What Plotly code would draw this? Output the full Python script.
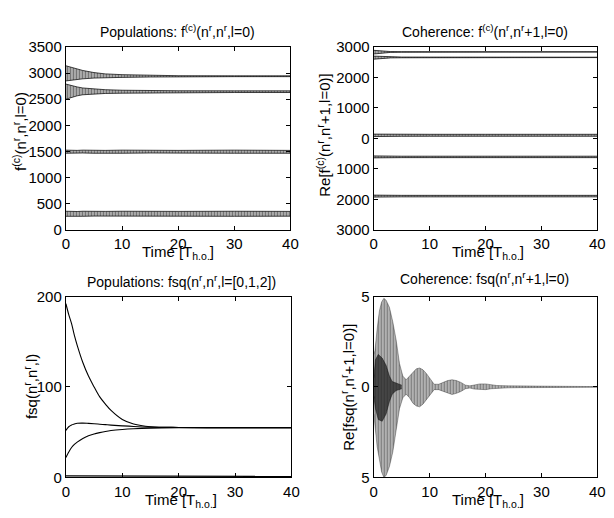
import plotly.graph_objects as go

# ---------------- data ----------------
# Top-left: populations f^(c)(n^r,n^r,l=0) -- oscillation bands (upper/lower envelopes)
t_pop = [0, 1, 2, 3, 5, 7, 10, 15, 20, 30, 40]
pop_b1_hi = [3140, 3110, 3080, 3050, 3010, 2985, 2970, 2955, 2950, 2948, 2948]
pop_b1_lo = [2850, 2865, 2880, 2890, 2905, 2912, 2918, 2925, 2930, 2932, 2932]
pop_b2_hi = [2790, 2760, 2735, 2715, 2695, 2682, 2672, 2665, 2662, 2660, 2660]
pop_b2_lo = [2500, 2535, 2565, 2585, 2600, 2610, 2615, 2620, 2625, 2628, 2628]
pop_b3_hi = [1525, 1520, 1520, 1525, 1520, 1520, 1525, 1520, 1520, 1525, 1520]
pop_b3_lo = [1465, 1470, 1465, 1470, 1465, 1470, 1465, 1470, 1465, 1465, 1465]
pop_b4_hi = [355, 350, 350, 355, 350, 352, 355, 350, 352, 355, 352]
pop_b4_lo = [258, 262, 260, 258, 262, 260, 258, 262, 260, 258, 260]

# Top-right: coherence Re f^(c)(n^r,n^r+1,l=0)
t_coh = [0, 1, 2, 3, 5, 10, 20, 30, 40]
coh_b1_hi = [2890, 2875, 2860, 2850, 2845, 2843, 2842, 2842, 2842]
coh_b1_lo = [2770, 2790, 2810, 2822, 2828, 2832, 2834, 2834, 2834]
coh_b2_hi = [2700, 2690, 2680, 2675, 2670, 2668, 2666, 2665, 2665]
coh_b2_lo = [2600, 2620, 2635, 2642, 2646, 2650, 2652, 2652, 2652]
coh_b3_hi = [140, 138, 136, 135, 135, 134, 134, 134, 134]
coh_b3_lo = [60, 64, 66, 68, 68, 70, 70, 70, 70]
coh_b4_hi = [-575, -580, -582, -584, -585, -585, -585, -585, -585]
coh_b4_lo = [-640, -636, -634, -632, -632, -632, -632, -632, -632]
coh_b5_hi = [-1862, -1866, -1868, -1870, -1870, -1870, -1870, -1870, -1870]
coh_b5_lo = [-1928, -1924, -1922, -1920, -1920, -1920, -1920, -1920, -1920]
coh_tickvals = [3000, 2000, 1000, 0, -1000, -2000, -3000]
coh_ticktext = ["3000", "2000", "1000", "0", "1000", "2000", "3000"]

# Bottom-left: fsq(n^r,n^r,l) for l = 0,1,2 (+ a near-zero trace)
t_fsq = [0, 0.5, 1, 1.5, 2, 3, 4, 5, 6, 7, 8, 10, 12, 15, 20, 25, 30, 40]
fsq_a = [192, 180, 170, 157, 146, 127, 112, 100, 89, 81, 74, 64, 59, 56, 55.2, 55, 55, 55]
fsq_b = [52, 56, 58, 59, 59.8, 60, 59.7, 59.3, 58.8, 58.3, 57.8, 57, 56.3, 55.6, 55.2, 55, 55, 55]
fsq_c = [22, 28, 33, 36.5, 39, 43, 46, 48, 49.5, 50.8, 51.8, 53, 53.8, 54.5, 54.9, 55, 55, 55]
t_fsq0 = [0, 10, 20, 40]
fsq_0 = [1.6, 1.3, 1.1, 1.0]

# Bottom-right: Re fsq(n^r,n^r+1,l=0) -- oscillation envelope
t_env = [0, 0.2, 0.6, 1.0, 1.4, 1.8, 2.2, 2.8, 3.4, 4.0, 4.6, 5.2, 5.8, 6.4, 7.0, 7.6,
         8.2, 8.8, 9.4, 10.0, 10.8, 11.6, 12.4, 13.2, 14.0, 14.8, 15.6, 16.4, 17.2,
         18.0, 19.0, 20.0, 21.0, 22.0, 24, 26, 28, 30, 35, 40]
env_hi = [1.8, 2.0, 3.2, 4.2, 4.7, 4.9, 4.8, 4.4, 3.6, 2.6, 1.3, 0.6, 0.4, 0.6, 0.85, 1.0,
          1.05, 0.95, 0.75, 0.5, 0.15, 0.15, 0.25, 0.35, 0.4, 0.35, 0.25, 0.1, 0.06,
          0.12, 0.17, 0.17, 0.12, 0.08, 0.06, 0.05, 0.04, 0.03, 0.02, 0.02]
env_lo = [-1.5, -2.2, -3.3, -4.0, -4.7, -5.0, -4.9, -4.4, -3.6, -2.4, -1.2, -0.6, -0.4, -0.6,
          -0.9, -1.05, -1.1, -0.95, -0.7, -0.45, -0.15, -0.15, -0.25, -0.35, -0.42, -0.35,
          -0.25, -0.1, -0.06, -0.12, -0.15, -0.15, -0.1, -0.07, -0.05, -0.04, -0.04, -0.03,
          -0.02, -0.02]
t_core = [0, 0.3, 0.8, 1.5, 2.2, 2.8, 3.3, 4, 5]
core_hi = [0.5, 1.5, 1.8, 1.6, 1.2, 0.6, 0.3, 0.2, 0.1]
core_lo = [-0.5, -1.2, -1.8, -1.9, -1.5, -0.8, -0.4, -0.2, -0.1]
fsqc_tickvals = [5, 0, -5]
fsqc_ticktext = ["5", "0", "5"]

# ---------------- figure ----------------
W, H = 614, 518
OFF = 8  # the page body adds an 8px margin; positions below are in page pixels
FONT = "Liberation Sans, Arial, Helvetica, sans-serif"

def px_x(a, b):
    return [(a - OFF) / W, (b - OFF) / W]

def px_y(top, bottom):
    return [1 - (bottom - OFF) / H, 1 - (top - OFF) / H]

fig = go.Figure()

def band(t, hi, lo, xa, ya, color="rgba(0,0,0,0.9)", lw=0.8, solidity=0.6,
         fg="rgba(0,0,0,0.9)", bg="rgba(120,120,120,0.35)", size=3):
    fig.add_trace(go.Scatter(x=t, y=hi, mode="lines", line=dict(color=color, width=lw),
                             xaxis=xa, yaxis=ya, showlegend=False, hoverinfo="skip"))
    fig.add_trace(go.Scatter(x=t, y=lo, mode="lines", line=dict(color=color, width=lw),
                             fill="tonexty", xaxis=xa, yaxis=ya, showlegend=False,
                             hoverinfo="skip",
                             fillpattern=dict(shape="|", size=size, solidity=solidity,
                                              fgcolor=fg, bgcolor=bg)))

# top-left
for hi, lo in [(pop_b1_hi, pop_b1_lo), (pop_b2_hi, pop_b2_lo), (pop_b3_hi, pop_b3_lo),
               (pop_b4_hi, pop_b4_lo)]:
    band(t_pop, hi, lo, "x", "y")
# top-right
for hi, lo in [(coh_b1_hi, coh_b1_lo), (coh_b2_hi, coh_b2_lo), (coh_b3_hi, coh_b3_lo),
               (coh_b4_hi, coh_b4_lo), (coh_b5_hi, coh_b5_lo)]:
    band(t_coh, hi, lo, "x2", "y2")
# bottom-left
for yv in [fsq_a, fsq_b, fsq_c]:
    fig.add_trace(go.Scatter(x=t_fsq, y=yv, mode="lines",
                             line=dict(color="black", width=1.1, shape="spline"),
                             xaxis="x3", yaxis="y3", showlegend=False, hoverinfo="skip"))
fig.add_trace(go.Scatter(x=t_fsq0, y=fsq_0, mode="lines", line=dict(color="black", width=1.3),
                         xaxis="x3", yaxis="y3", showlegend=False, hoverinfo="skip"))
# bottom-right
band(t_env, env_hi, env_lo, "x4", "y4", color="rgba(0,0,0,0.55)", lw=0.6, solidity=0.6,
     fg="rgba(0,0,0,0.85)", bg="rgba(150,150,150,0.4)", size=3)
band(t_core, core_hi, core_lo, "x4", "y4", color="rgba(0,0,0,0.7)", lw=0.6, solidity=0.75,
     fg="rgba(0,0,0,0.95)", bg="rgba(60,60,60,0.6)", size=2)

axis_common = dict(showline=True, linecolor="black", linewidth=1.3, mirror="ticks",
                   ticks="inside", ticklen=4, tickcolor="black", tickwidth=1.1,
                   showgrid=False, zeroline=False, ticklabeloverflow="allow",
                   tickfont=dict(family=FONT, size=15, color="black"))

xdoms = [px_x(63, 292), px_x(377, 605), px_x(63, 293), px_x(377, 605)]
ydoms = [px_y(39, 228), px_y(39, 228), px_y(297, 484), px_y(297, 484)]
names = ["", "2", "3", "4"]
for i, n in enumerate(names):
    fig.layout["xaxis" + n] = dict(axis_common, domain=xdoms[i], range=[0, 40],
                                   tickvals=[0, 10, 20, 30, 40], anchor="y" + n)
    fig.layout["yaxis" + n] = dict(axis_common, domain=ydoms[i], anchor="x" + n)

fig.layout.yaxis.update(range=[0, 3500], tickvals=[0, 500, 1000, 1500, 2000, 2500, 3000, 3500])
fig.layout.yaxis2.update(range=[-3000, 3000], tickvals=coh_tickvals, ticktext=coh_ticktext)
fig.layout.yaxis3.update(range=[0, 200], tickvals=[0, 100, 200])
fig.layout.yaxis4.update(range=[-5, 5], tickvals=fsqc_tickvals, ticktext=fsqc_ticktext)

def ann(text, x, y, size=14, angle=0):
    fig.add_annotation(text=text, x=(x - OFF) / W, y=1 - (y - OFF) / H, xref="paper",
                       yref="paper", showarrow=False, textangle=angle, xanchor="center",
                       yanchor="middle", font=dict(family=FONT, size=size, color="black"))

# titles
ann("Populations: f<sup>(c)</sup>(n<sup>r</sup>,n<sup>r</sup>,l=0)", 177, 22)
ann("Coherence: f<sup>(c)</sup>(n<sup>r</sup>,n<sup>r</sup>+1,l=0)", 490, 22)
ann("Populations: fsq(n<sup>r</sup>,n<sup>r</sup>,l=[0,1,2])", 181, 281)
ann("Coherence: fsq(n<sup>r</sup>,n<sup>r</sup>+1,l=0)", 490, 278)
# x titles
for cx, cy in [(177, 252), (493, 252), (180, 508), (493, 508)]:
    ann("Time [T<sub>h.o.</sub>]", cx, cy, size=15)
# y titles
ann("f<sup>(c)</sup>(n<sup>r</sup>,n<sup>r</sup>,l=0)", 15, 126, size=15, angle=-90)
ann("Re[f<sup>(c)</sup>(n<sup>r</sup>,n<sup>r</sup>+1,l=0)]", 326, 130, size=15, angle=-90)
ann("fsq(n<sup>r</sup>,n<sup>r</sup>,l)", 27, 390, size=15, angle=-90)
ann("Re[fsq(n<sup>r</sup>,n<sup>r</sup>+1,l=0)]", 350, 391, size=15, angle=-90)

fig.update_layout(width=W, height=H, autosize=False, margin=dict(l=0, r=0, t=0, b=0),
                  paper_bgcolor="white", plot_bgcolor="white", showlegend=False)

fig.write_html("out.html")
